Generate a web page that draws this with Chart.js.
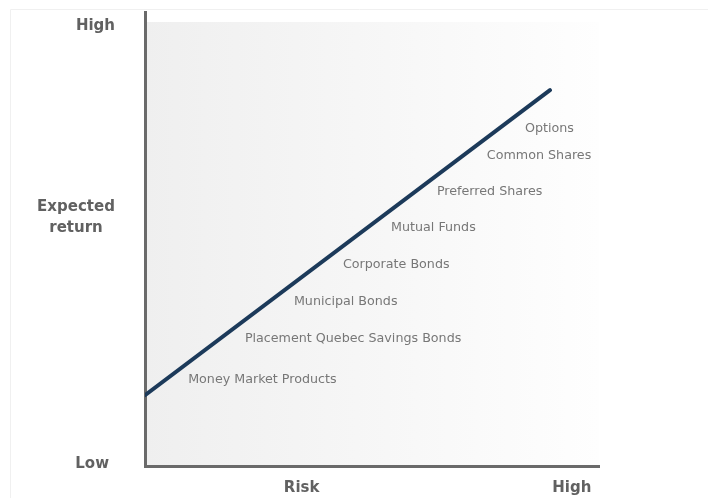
<!DOCTYPE html>
<html>
<head>
<meta charset="utf-8">
<script src="https://cdn.jsdelivr.net/npm/chart.js@4"></script>
<style>
  html, body { margin: 0; padding: 0; background: #fff; }
  #wrap { width: 708px; height: 498px; position: relative; }
</style>
</head>
<body>
<div id="wrap"><canvas id="risk-chart"></canvas></div>
<script>
// risk / return line (0-100 scale on both axes)
const lineRisk = [0, 89.2];
const lineReturn = [15.6, 82.8];

// products placed along the line
const products = ['Options', 'Common Shares', 'Preferred Shares', 'Mutual Funds',
  'Corporate Bonds', 'Municipal Bonds', 'Placement Quebec Savings Bonds', 'Money Market Products'];
const productRisk = [83.7, 75.3, 64.3, 54.2, 43.6, 32.8, 22.0, 9.5];
const productReturn = [74.4, 68.3, 60.4, 52.4, 44.3, 36.3, 28.1, 19.1];

// axis end labels
const yLabels = ['Low', 'High'];
const xLabels = ['Risk', 'High'];
const yTitle = ['Expected', 'return'];

var ctx = document.getElementById('risk-chart');

const bgPlugin = {
  id: 'bg',
  beforeDraw(chart) {
    const c = chart.ctx, a = chart.chartArea;
    c.save();
    c.strokeStyle = '#f0f0f0';
    c.lineWidth = 1;
    c.beginPath();
    c.moveTo(10.5, 498);
    c.lineTo(10.5, 9.5);
    c.lineTo(708, 9.5);
    c.stroke();
    const g = c.createLinearGradient(a.left, 0, a.right, 0);
    g.addColorStop(0, '#efefef');
    g.addColorStop(1, '#fefefe');
    c.fillStyle = g;
    c.fillRect(a.left, a.top + 10, a.right - a.left, a.bottom - a.top - 10);
    c.restore();
  }
};

const textPlugin = {
  id: 'texts',
  afterDraw(chart) {
    const c = chart.ctx;
    const xs = chart.scales.x, ys = chart.scales.y;
    c.save();
    c.textBaseline = 'middle';
    c.fillStyle = '#777';
    c.font = '12.7px "DejaVu Sans"';
    c.textAlign = 'left';
    products.forEach(function(p, i) {
      c.fillText(p, xs.getPixelForValue(productRisk[i]), ys.getPixelForValue(productReturn[i]));
    });

    c.fillStyle = '#616161';
    c.font = 'bold 15px "DejaVu Sans"';
    c.textAlign = 'right';
    c.fillText(yLabels[1], xs.left - 30, ys.getPixelForValue(97));
    c.fillText(yLabels[0], xs.left - 36, ys.getPixelForValue(0.5));
    c.textAlign = 'center';
    c.fillText(yTitle[0], xs.left - 69, ys.getPixelForValue(57));
    c.fillText(yTitle[1], xs.left - 69, ys.getPixelForValue(52.5));
    c.fillText(xLabels[0], xs.getPixelForValue(34.5), ys.bottom + 22);
    c.fillText(xLabels[1], xs.getPixelForValue(94), ys.bottom + 22);
    c.restore();
  }
};

const config = {
  type: 'line',
  data: {
    datasets: [{
      data: lineRisk.map(function(r, i) { return {x: r, y: lineReturn[i]}; }),
      borderColor: '#1c3a5a',
      borderWidth: 4,
      pointRadius: 0,
      borderCapStyle: 'round'
    }]
  },
  options: {
    responsive: false,
    animation: false,
    layout: { padding: { left: 145, top: 12, right: 109, bottom: 32 } },
    plugins: { legend: { display: false }, tooltip: { enabled: false } },
    scales: {
      x: {
        type: 'linear', min: 0, max: 100,
        ticks: { display: false },
        grid: { display: false, drawTicks: false, tickLength: 0 },
        border: { display: true, color: '#6a6a6a', width: 3 }
      },
      y: {
        type: 'linear', min: 0, max: 100,
        ticks: { display: false },
        grid: { display: false, drawTicks: false, tickLength: 0 },
        border: { display: true, color: '#6a6a6a', width: 3 }
      }
    }
  },
  plugins: [bgPlugin, textPlugin]
};

ctx.width = 708;
ctx.height = 498;
var chart = new Chart(ctx, config);
</script>
</body>
</html>
